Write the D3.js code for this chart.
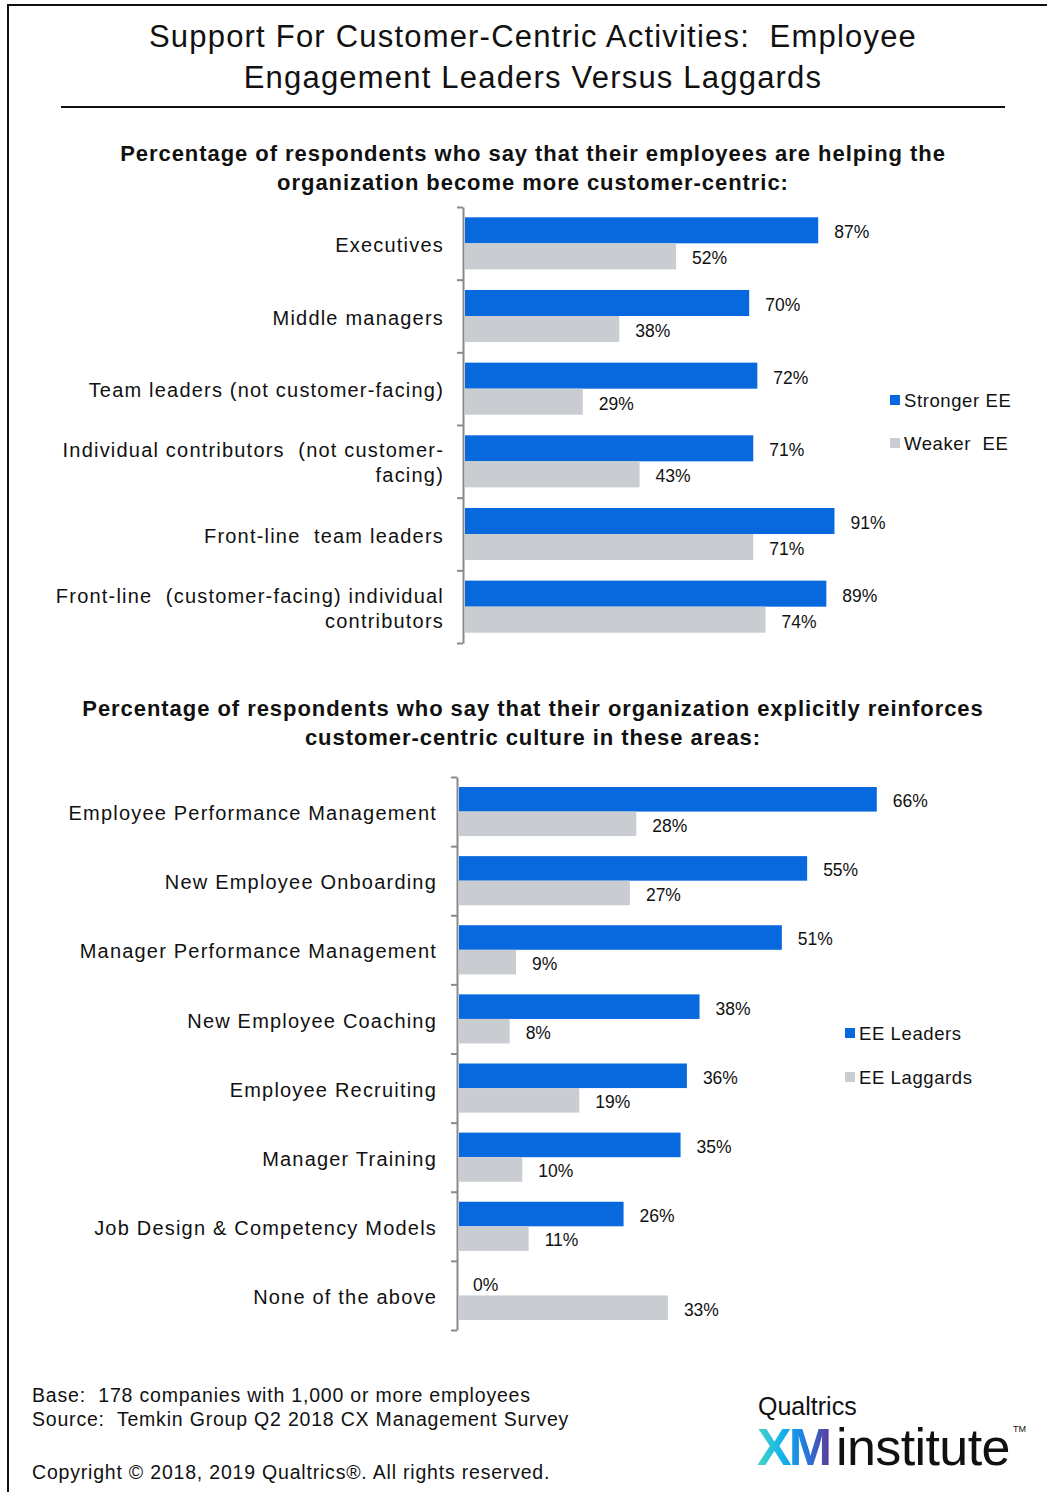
<!DOCTYPE html>
<html>
<head>
<meta charset="utf-8">
<script src="https://cdn.jsdelivr.net/npm/d3@7"></script>
<style>
  html, body { margin: 0; padding: 0; background: #fff; }
  svg { display: block; }
  text { font-family: "Liberation Sans", Arial, sans-serif; fill: #111; white-space: pre; }
</style>
</head>
<body>
<svg id="chart" width="1047" height="1492"></svg>
<script>
// ---- Panel 1: employees helping the organization become customer-centric
const roles = [
  ["Executives"],
  ["Middle managers"],
  ["Team leaders (not customer-facing)"],
  ["Individual contributors  (not customer-", "facing)"],
  ["Front-line  team leaders"],
  ["Front-line  (customer-facing) individual", "contributors"]
];
const strongerEE = [87, 70, 72, 71, 91, 89];
const weakerEE   = [52, 38, 29, 43, 71, 74];
const legend1 = ["Stronger EE", "Weaker  EE"];

// ---- Panel 2: areas where customer-centric culture is reinforced
const areas = [
  "Employee Performance Management",
  "New Employee Onboarding",
  "Manager Performance Management",
  "New Employee Coaching",
  "Employee Recruiting",
  "Manager Training",
  "Job Design & Competency Models",
  "None of the above"
];
const eeLeaders  = [66, 55, 51, 38, 36, 35, 26, 0];
const eeLaggards = [28, 27, 9, 8, 19, 10, 11, 33];
const legend2 = ["EE Leaders", "EE Laggards"];

const BLUE = "#0868de", GRAY = "#c9ccd0", AXIS = "#8a8a8a";

const svg = d3.select("#chart");

// page frame
svg.append("line").attr("x1", 8).attr("x2", 1047).attr("y1", 5).attr("y2", 5)
  .attr("stroke", "#111").attr("stroke-width", 2);
svg.append("line").attr("x1", 8).attr("x2", 8).attr("y1", 4).attr("y2", 1492)
  .attr("stroke", "#111").attr("stroke-width", 2);

// title
const title = svg.append("text").attr("text-anchor", "middle")
  .attr("font-size", 31).attr("letter-spacing", 1.2);
title.append("tspan").attr("x", 533).attr("y", 47).text("Support For Customer-Centric Activities:  Employee");
title.append("tspan").attr("x", 533).attr("y", 88).text("Engagement Leaders Versus Laggards");
svg.append("line").attr("x1", 61).attr("x2", 1005).attr("y1", 107).attr("y2", 107)
  .attr("stroke", "#111").attr("stroke-width", 2);

function subtitle(lines, y0) {
  const t = svg.append("text").attr("text-anchor", "middle")
    .attr("font-size", 22).attr("font-weight", "bold").attr("letter-spacing", 0.95);
  lines.forEach((s, i) => t.append("tspan").attr("x", 533).attr("y", y0 + i * 29).text(s));
}
subtitle(["Percentage of respondents who say that their employees are helping the",
          "organization become more customer-centric:"], 161);
subtitle(["Percentage of respondents who say that their organization explicitly reinforces",
          "customer-centric culture in these areas:"], 716);

function panel(cfg) {
  const n = cfg.cats.length;
  const y = d3.scaleBand().domain(d3.range(n)).range([cfg.top, cfg.bottom]);
  const sub = d3.scaleBand().domain([0, 1]).range([cfg.pad, y.bandwidth() - cfg.pad]);
  const x = d3.scaleLinear().domain([0, 100]).range([cfg.x0, cfg.x0 + cfg.pxPer100]);

  // axis with ticks at category boundaries
  const yb = d3.scaleLinear().domain([0, n]).range([cfg.top, cfg.bottom]);
  const ax = svg.append("g").attr("transform", `translate(${cfg.axisX},0)`)
    .call(d3.axisLeft(yb).tickValues(d3.range(n + 1)).tickSize(6).tickSizeOuter(0).tickFormat(""));
  ax.selectAll("path, line").attr("stroke", AXIS).attr("stroke-width", 2);

  const series = [cfg.a, cfg.b];
  const colors = [BLUE, GRAY];
  series.forEach((vals, si) => {
    const g = svg.append("g");
    g.selectAll("rect").data(vals).join("rect")
      .attr("x", x(0))
      .attr("y", (d, i) => y(i) + sub(si))
      .attr("width", d => x(d) - x(0))
      .attr("height", sub.bandwidth())
      .attr("fill", colors[si]);
    g.selectAll("text").data(vals).join("text")
      .attr("x", d => x(d) + (d === 0 ? 14 : 16))
      .attr("y", (d, i) => y(i) + sub(si) + sub.bandwidth() / 2)
      .attr("dy", "0.45em")
      .attr("font-size", 17.5)
      .text(d => d + "%");
  });

  // category labels
  cfg.cats.forEach((lines, i) => {
    lines = Array.isArray(lines) ? lines : [lines];
    const cy = y(i) + y.bandwidth() / 2;
    const t = svg.append("text").attr("text-anchor", "end")
      .attr("font-size", cfg.labelSize).attr("letter-spacing", 1.2);
    lines.forEach((s, k) => t.append("tspan")
      .attr("x", cfg.labelX)
      .attr("y", cy + (k - (lines.length - 1) / 2) * cfg.lineH)
      .attr("dy", "0.43em")
      .text(s));
  });

  // legend
  cfg.legend.forEach((s, k) => {
    const ly = cfg.legY + k * cfg.legGap;
    svg.append("rect").attr("x", cfg.legX).attr("y", ly - 5).attr("width", 10).attr("height", 10)
      .attr("fill", colors[k]);
    svg.append("text").attr("x", cfg.legX + 14).attr("y", ly).attr("dy", "0.38em")
      .attr("font-size", 18.5).attr("letter-spacing", 0.6).text(s);
  });
}

panel({
  cats: roles, a: strongerEE, b: weakerEE, legend: legend1,
  top: 207, bottom: 643, pad: 10.3, axisX: 463, x0: 465, pxPer100: 406,
  labelX: 444, labelSize: 20, lineH: 25,
  legX: 890, legY: 400, legGap: 43
});

panel({
  cats: areas, a: eeLeaders, b: eeLaggards, legend: legend2,
  top: 777, bottom: 1330, pad: 10, axisX: 457, x0: 459, pxPer100: 633,
  labelX: 437, labelSize: 20, lineH: 25,
  legX: 845, legY: 1033, legGap: 44
});

// footnotes
const foot = [
  ["Base:  178 companies with 1,000 or more employees", 1402],
  ["Source:  Temkin Group Q2 2018 CX Management Survey", 1426],
  ["Copyright \u00A9 2018, 2019 Qualtrics\u00AE. All rights reserved.", 1479]
];
foot.forEach(([s, yy]) => svg.append("text").attr("x", 32).attr("y", yy)
  .attr("font-size", 19.5).attr("letter-spacing", 0.8).attr("fill", "#222").text(s));

// Qualtrics XM institute wordmark
const defs = svg.append("defs");
const grad = defs.append("linearGradient").attr("id", "xmGrad")
  .attr("x1", "0%").attr("x2", "100%").attr("y1", "0%").attr("y2", "0%");
[["0%", "#46d6c4"], ["35%", "#14b3ea"], ["65%", "#1f7fe0"], ["100%", "#5a3c9c"]]
  .forEach(([o, c]) => grad.append("stop").attr("offset", o).attr("stop-color", c));

svg.append("text").attr("x", 758).attr("y", 1415).attr("font-size", 25)
  .attr("font-family", "'Open Sans', sans-serif").text("Qualtrics");
svg.append("text").attr("x", 757).attr("y", 1465).attr("font-size", 52)
  .attr("font-weight", "bold").attr("letter-spacing", -3)
  .attr("font-family", "'Open Sans', sans-serif")
  .style("fill", "url(#xmGrad)").text("XM");
svg.append("text").attr("x", 836).attr("y", 1465).attr("font-size", 52)
  .attr("font-weight", 300).attr("letter-spacing", -0.6)
  .attr("font-family", "'Open Sans', sans-serif").text("institute");
svg.append("text").attr("x", 1013).attr("y", 1432).attr("font-size", 9)
  .attr("font-family", "'Open Sans', sans-serif").text("TM");
</script>
</body>
</html>
